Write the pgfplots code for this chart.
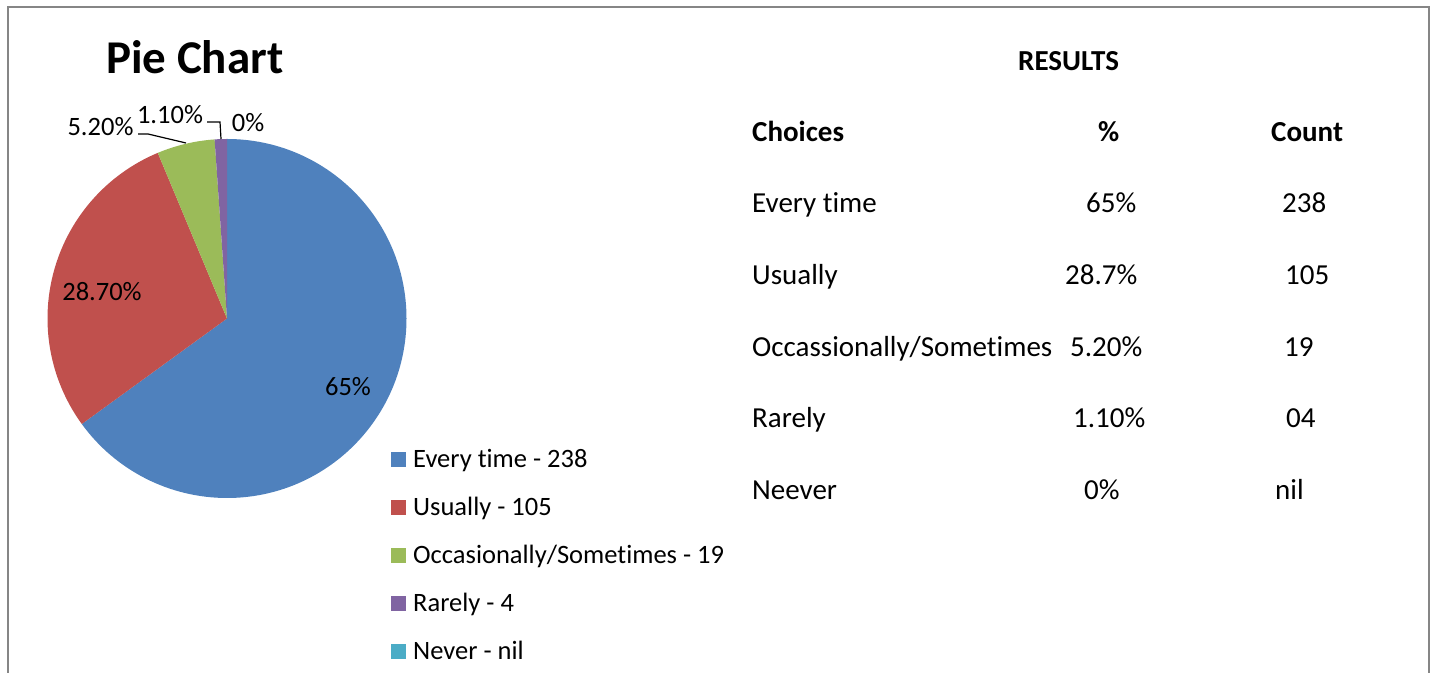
\documentclass[border=0pt]{standalone}
\usepackage{pgfplots}
\pgfplotsset{compat=1.18}
\usepackage{pgfplotstable}
\usepackage{fontspec}
\setmainfont[Ligatures={NoCommon}]{Carlito}
\definecolor{cA}{HTML}{4F81BD}
\definecolor{cB}{HTML}{C0504D}
\definecolor{cC}{HTML}{9BBB59}
\definecolor{cD}{HTML}{8064A2}
\definecolor{cE}{HTML}{4BACC6}
\definecolor{frame}{HTML}{868686}
\pgfplotstableread{
pct count
65 238
28.7 105
5.2 19
1.1 4
0 0
}\piedata
\newcommand\lbl{\fontsize{26.5}{32}\selectfont}
\newcommand\tbl{\fontsize{29}{35}\selectfont}
\begin{document}
\begin{tikzpicture}
\pgfplotstablegetelem{0}{pct}\of\piedata \pgfmathsetmacro\aA{90-3.6*\pgfplotsretval}
\pgfplotstablegetelem{1}{pct}\of\piedata \pgfmathsetmacro\aB{\aA-3.6*\pgfplotsretval}
\pgfplotstablegetelem{2}{pct}\of\piedata \pgfmathsetmacro\aC{\aB-3.6*\pgfplotsretval}
\pgfplotstablegetelem{3}{pct}\of\piedata \pgfmathsetmacro\aD{\aC-3.6*\pgfplotsretval}
\def\cx{227}\def\cy{354.5}\def\rr{179.5pt}
\begin{axis}[width=1435pt,height=673pt,scale only axis,xmin=0,xmax=1435,ymin=0,ymax=673,
  hide axis,clip=false,enlargelimits=false]
\path (axis cs:0,0) rectangle (axis cs:1435,673);
\draw[frame, line width=1.8pt] (axis cs:8.2,0) -- (axis cs:8.2,666.3) -- (axis cs:1428.8,666.3) -- (axis cs:1428.8,0);
% pie slices
\fill[cA] (axis cs:\cx,\cy) -- ([shift={(90:\rr)}]axis cs:\cx,\cy) arc[start angle=90, end angle=\aA, radius=\rr] -- cycle;
\fill[cB] (axis cs:\cx,\cy) -- ([shift={(\aA:\rr)}]axis cs:\cx,\cy) arc[start angle=\aA, end angle=\aB, radius=\rr] -- cycle;
\fill[cC] (axis cs:\cx,\cy) -- ([shift={(\aB:\rr)}]axis cs:\cx,\cy) arc[start angle=\aB, end angle=\aC, radius=\rr] -- cycle;
\fill[cD] (axis cs:\cx,\cy) -- ([shift={(\aC:\rr)}]axis cs:\cx,\cy) arc[start angle=\aC, end angle=\aD, radius=\rr] -- cycle;
% data labels
\node[anchor=base, inner sep=0pt, font=\lbl] at (axis cs:348,277.5) {65\%};
\node[anchor=base, inner sep=0pt, font=\lbl] at (axis cs:102,372.5) {28.70\%};
\node[anchor=base, inner sep=0pt, font=\lbl] at (axis cs:100.5,537) {5.20\%};
\node[anchor=base, inner sep=0pt, font=\lbl] at (axis cs:170,549) {1.10\%};
\node[anchor=base, inner sep=0pt, font=\lbl] at (axis cs:248,541.5) {0\%};
\draw[black, line width=1.2pt] (axis cs:138,539) -- (axis cs:148,539) -- (axis cs:186,530);
\draw[black, line width=1.2pt] (axis cs:207,551) -- (axis cs:220,551) -- (axis cs:221,534);
% title
\node[anchor=base west, inner sep=0pt, font=\fontsize{47}{56}\selectfont\bfseries] at (axis cs:106,599) {Pie Chart};
% legend
\fill[cA] (axis cs:391,205.5) rectangle (axis cs:406,220.5);
\fill[cB] (axis cs:391,157.5) rectangle (axis cs:406,172.5);
\fill[cC] (axis cs:391,109.5) rectangle (axis cs:406,124.5);
\fill[cD] (axis cs:391,61.5) rectangle (axis cs:406,76.5);
\fill[cE] (axis cs:391,13.5) rectangle (axis cs:406,28.5);
\node[anchor=base west, inner sep=0pt, font=\lbl] at (axis cs:413,205) {Every time - 238};
\node[anchor=base west, inner sep=0pt, font=\lbl] at (axis cs:413,157) {Usually - 105};
\node[anchor=base west, inner sep=0pt, font=\lbl] at (axis cs:413,109) {Occasionally/Sometimes - 19};
\node[anchor=base west, inner sep=0pt, font=\lbl] at (axis cs:413,61) {Rarely - 4};
\node[anchor=base west, inner sep=0pt, font=\lbl] at (axis cs:413,13) {Never - nil};
% results table
\node[anchor=base west, inner sep=0pt, font=\tbl\bfseries] at (axis cs:1018,602.5) {RESULTS};
\node[anchor=base west, inner sep=0pt, font=\tbl\bfseries] at (axis cs:752,531.5) {Choices};
\node[anchor=base west, inner sep=0pt, font=\tbl\bfseries] at (axis cs:1098,531.5) {\%};
\node[anchor=base west, inner sep=0pt, font=\tbl\bfseries] at (axis cs:1271,531.5) {Count};
\node[anchor=base west, inner sep=0pt, font=\tbl] at (axis cs:752,460) {Every time};
\node[anchor=base west, inner sep=0pt, font=\tbl] at (axis cs:752,388) {Usually};
\node[anchor=base west, inner sep=0pt, font=\tbl] at (axis cs:752,316.5) {Occassionally/Sometimes};
\node[anchor=base west, inner sep=0pt, font=\tbl] at (axis cs:752,245) {Rarely};
\node[anchor=base west, inner sep=0pt, font=\tbl] at (axis cs:752,173) {Neever};
\node[anchor=base west, inner sep=0pt, font=\tbl] at (axis cs:1086,460) {65\%};
\node[anchor=base west, inner sep=0pt, font=\tbl] at (axis cs:1065,388) {28.7\%};
\node[anchor=base west, inner sep=0pt, font=\tbl] at (axis cs:1070,316.5) {5.20\%};
\node[anchor=base west, inner sep=0pt, font=\tbl] at (axis cs:1073,245) {1.10\%};
\node[anchor=base west, inner sep=0pt, font=\tbl] at (axis cs:1084,173) {0\%};
\node[anchor=base west, inner sep=0pt, font=\tbl] at (axis cs:1282,460) {238};
\node[anchor=base west, inner sep=0pt, font=\tbl] at (axis cs:1285,388) {105};
\node[anchor=base west, inner sep=0pt, font=\tbl] at (axis cs:1284,316.5) {19};
\node[anchor=base west, inner sep=0pt, font=\tbl] at (axis cs:1286,245) {04};
\node[anchor=base west, inner sep=0pt, font=\tbl] at (axis cs:1275,173) {nil};
\end{axis}
\end{tikzpicture}
\end{document}
